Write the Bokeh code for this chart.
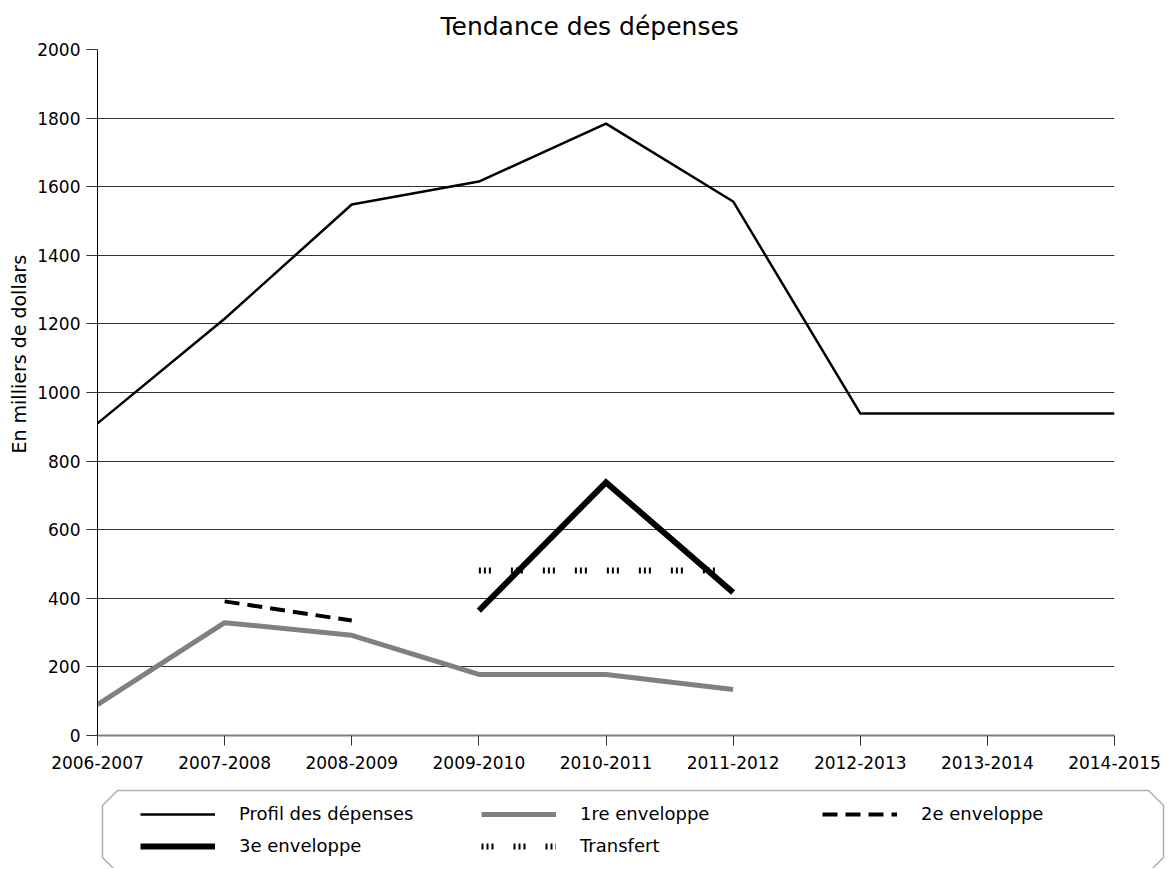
import math
from bokeh.plotting import figure
from bokeh.models import (Range1d, FixedTicker, Legend, LegendItem, Title)
from bokeh.layouts import column
from bokeh.embed import file_html
from bokeh.resources import INLINE

NaN = float("nan")

# ---- data ----
categories = ["2006-2007", "2007-2008", "2008-2009", "2009-2010", "2010-2011",
              "2011-2012", "2012-2013", "2013-2014", "2014-2015"]
profil = [910, 1215, 1548, 1615, 1784, 1557, 939, 939, 939]
env1 = [90, 329, 292, 178, 178, 134, NaN, NaN, NaN]
env2 = [NaN, 391, 335, NaN, NaN, NaN, NaN, NaN, NaN]
env3 = [NaN, NaN, NaN, 364, 738, 417, NaN, NaN, NaN]
transfert = [NaN, NaN, NaN, 481, 481, 481, NaN, NaN, NaN]
y_ticks = [0, 200, 400, 600, 800, 1000, 1200, 1400, 1600, 1800, 2000]

series_names = ["Profil des dépenses", "1re enveloppe", "2e enveloppe",
                "3e enveloppe", "Transfert"]
series_values = [profil, env1, env2, env3, transfert]
series_styles = [
    dict(line_color="#000000", line_width=2.5),
    dict(line_color="#808080", line_width=5),
    dict(line_color="#000000", line_width=4, line_dash="15 8"),
    dict(line_color="#000000", line_width=6, line_join="miter"),
    dict(line_color="#000000", line_width=6, line_dash="2 3 2 3 2 20"),
]

FONT = "DejaVu Sans"
W = 1165
MAIN_H = 788
LEG_H = 80
xs = list(range(len(categories)))


def no_align(fig):
    if "frame_align" in fig.properties():
        fig.frame_align = False


p = figure(width=W, height=MAIN_H, output_backend="svg", toolbar_location=None,
           x_range=Range1d(0, len(categories) - 1), y_range=Range1d(0, 2000),
           min_border_left=97, min_border_right=51, min_border_top=49,
           min_border_bottom=53, title="Tendance des dépenses")
no_align(p)
p.outline_line_color = None
p.background_fill_color = "white"
p.border_fill_color = "white"

p.title.align = "left"
p.title.offset = 343
p.title.standoff = 17
p.title.text_font = FONT
p.title.text_font_size = "25px"
p.title.text_font_style = "normal"
p.title.text_color = "#000000"

p.xgrid.grid_line_color = None
p.ygrid.grid_line_color = "#333333"
p.ygrid.grid_line_width = 1
p.ygrid.ticker = FixedTicker(ticks=y_ticks)

p.yaxis.ticker = FixedTicker(ticks=y_ticks)
p.yaxis.axis_line_color = "#000000"
p.yaxis.major_tick_line_color = "#333333"
p.yaxis.major_tick_out = 11
p.yaxis.major_tick_in = 0
p.yaxis.minor_tick_line_color = None
p.yaxis.major_label_standoff = 6
p.yaxis.major_label_text_font = FONT
p.yaxis.major_label_text_font_size = "17px"
p.yaxis.major_label_text_color = "#000000"

# y-axis title as a vertical title panel (sits a little above the frame centre)
p.add_layout(Title(text="En milliers de dollars", align="left", offset=282,
                   standoff=9, text_font=FONT, text_font_size="19px",
                   text_font_style="normal", text_color="#000000"), "left")

p.xaxis.ticker = FixedTicker(ticks=xs)
p.xaxis.major_label_overrides = {i: c for i, c in enumerate(categories)}
p.xaxis.axis_line_color = "#808080"
p.xaxis.axis_line_width = 2
p.xaxis.major_tick_line_color = "#333333"
p.xaxis.major_tick_out = 10
p.xaxis.major_tick_in = 0
p.xaxis.minor_tick_line_color = None
p.xaxis.major_label_standoff = 10
p.xaxis.major_label_text_font = FONT
p.xaxis.major_label_text_font_size = "17px"
p.xaxis.major_label_text_color = "#000000"

for vals, style in zip(series_values, series_styles):
    p.line(xs, vals, **style)

# ---- legend panel ----
lg = figure(width=W, height=LEG_H, output_backend="svg", toolbar_location=None,
            x_range=Range1d(0, W), y_range=Range1d(LEG_H, 0),
            min_border=0, min_border_left=0, min_border_right=0,
            min_border_top=0, min_border_bottom=0)
no_align(lg)
lg.axis.visible = False
lg.grid.visible = False
lg.outline_line_color = None
lg.border_fill_color = "white"
lg.background_fill_color = "white"

# chamfered frame (screen-like coordinates of this panel; bottom runs off the page)
L, R, T, B, C = 102, 1163, 2, 84, 15
lg.patch([L + C, R - C, R, R, R - C, L + C, L, L],
         [T, T, T + C, B - C, B, B, B - C, T + C],
         fill_color=None, line_color="#b0b0b0", line_width=1.5)

items = []
for name, style in zip(series_names, series_styles):
    r = lg.line([NaN], [NaN], **style)
    items.append(LegendItem(label=name, renderers=[r]))

legend = Legend(items=items, location=(140, 12), orientation="horizontal", ncols=3,
                glyph_width=75, glyph_height=20, label_height=20,
                label_standoff=24, label_width=231, spacing=11,
                padding=0, margin=0, border_line_color=None,
                background_fill_alpha=0,
                label_text_font=FONT, label_text_font_size="18px",
                label_text_color="#000000")
lg.add_layout(legend)

layout = column(p, lg, spacing=0)
open("out.html", "w").write(file_html(layout, INLINE))
